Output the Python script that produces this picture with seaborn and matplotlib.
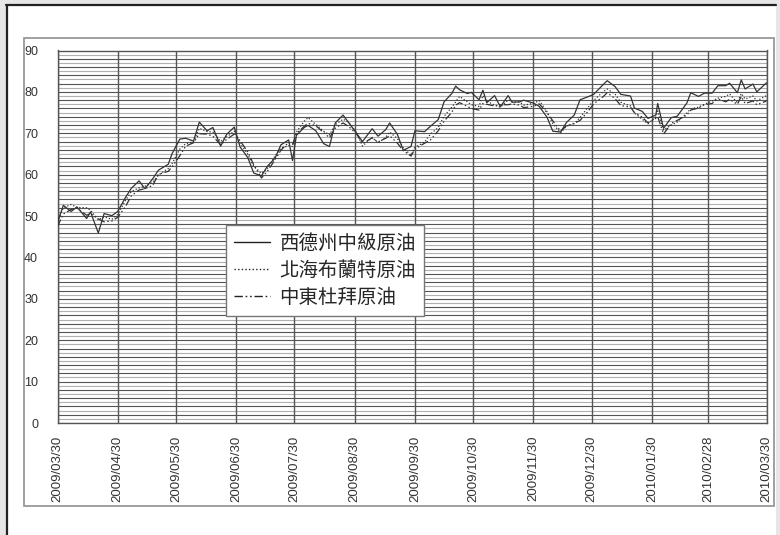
import numpy as np
import pandas as pd
import matplotlib
matplotlib.use("Agg")
from matplotlib import pyplot as plt
from matplotlib.patches import Rectangle
import seaborn as sns

# prices (about two points per week)
dates = ["2009-03-30", "2009-04-02", "2009-04-06", "2009-04-09", "2009-04-14", "2009-04-16",
         "2009-04-20", "2009-04-23", "2009-04-27", "2009-04-30", "2009-05-04", "2009-05-07",
         "2009-05-11", "2009-05-14", "2009-05-18", "2009-05-21", "2009-05-26", "2009-05-28",
         "2009-06-01", "2009-06-04", "2009-06-08", "2009-06-11", "2009-06-15", "2009-06-18",
         "2009-06-22", "2009-06-25", "2009-06-29", "2009-07-02", "2009-07-06", "2009-07-09",
         "2009-07-13", "2009-07-16", "2009-07-20", "2009-07-23", "2009-07-27", "2009-07-29",
         "2009-07-31", "2009-08-04", "2009-08-06", "2009-08-10", "2009-08-14", "2009-08-17",
         "2009-08-20", "2009-08-24", "2009-08-27", "2009-08-31", "2009-09-03", "2009-09-08",
         "2009-09-11", "2009-09-15", "2009-09-17", "2009-09-21", "2009-09-24", "2009-09-28",
         "2009-09-30", "2009-10-05", "2009-10-08", "2009-10-12", "2009-10-15", "2009-10-19",
         "2009-10-21", "2009-10-23", "2009-10-27", "2009-10-29", "2009-11-02", "2009-11-04",
         "2009-11-06", "2009-11-10", "2009-11-13", "2009-11-17", "2009-11-19", "2009-11-23",
         "2009-11-25", "2009-11-30", "2009-12-03", "2009-12-07", "2009-12-10", "2009-12-14",
         "2009-12-17", "2009-12-21", "2009-12-24", "2009-12-28", "2009-12-31", "2010-01-05",
         "2010-01-07", "2010-01-11", "2010-01-14", "2010-01-19", "2010-01-21", "2010-01-25",
         "2010-01-28", "2010-02-01", "2010-02-02", "2010-02-05", "2010-02-09", "2010-02-12",
         "2010-02-17", "2010-02-19", "2010-02-23", "2010-02-26", "2010-03-02", "2010-03-05",
         "2010-03-09", "2010-03-11", "2010-03-15", "2010-03-17", "2010-03-19", "2010-03-23",
         "2010-03-25", "2010-03-30"]

wti = [48.4, 52.6, 51.1, 52.2, 49.4, 51.0, 45.9, 50.6, 50.1, 51.1, 54.5, 56.7,
       58.5, 56.6, 59.0, 61.1, 62.5, 65.1, 68.6, 68.8, 68.1, 72.7, 70.6, 71.4,
       66.9, 69.7, 71.5, 66.7, 64.1, 60.4, 59.7, 62.0, 64.0, 67.2, 68.4, 63.4,
       69.5, 71.4, 71.9, 70.6, 67.5, 66.8, 72.5, 74.4, 72.5, 70.0, 68.0, 71.1,
       69.3, 70.9, 72.5, 69.7, 65.9, 66.8, 70.6, 70.4, 71.7, 73.3, 77.6, 79.6,
       81.4, 80.5, 79.6, 79.9, 78.1, 80.4, 77.4, 79.1, 76.4, 79.1, 77.5, 77.6,
       78.0, 77.3, 76.5, 73.9, 70.5, 70.3, 72.6, 74.4, 78.1, 78.8, 79.4, 81.8,
       82.7, 81.3, 79.4, 79.0, 76.1, 75.3, 73.6, 74.4, 77.2, 71.2, 73.8, 74.1,
       77.3, 79.8, 78.9, 79.7, 79.7, 81.5, 81.5, 82.1, 79.8, 82.9, 80.7, 81.9,
       80.0, 82.2]

brent = [48.6, 52.0, 52.8, 52.1, 52.0, 51.4, 49.1, 49.8, 49.2, 50.4, 53.8, 55.9,
         56.8, 57.2, 58.1, 59.9, 61.5, 62.7, 66.2, 67.5, 67.9, 71.2, 70.4, 70.3,
         68.0, 69.1, 70.5, 67.6, 64.9, 62.0, 60.3, 61.5, 64.5, 66.4, 67.0, 66.8,
         70.3, 72.9, 73.8, 72.1, 70.5, 69.6, 72.1, 73.4, 72.6, 70.2, 66.9, 69.0,
         67.6, 69.1, 70.3, 68.7, 66.5, 64.7, 66.6, 67.9, 69.8, 71.4, 74.1, 76.3,
         77.6, 78.9, 77.6, 76.9, 76.5, 79.1, 77.8, 76.8, 76.3, 78.1, 77.6, 77.5,
         76.8, 77.2, 77.9, 75.2, 72.3, 70.1, 71.7, 72.3, 73.8, 76.2, 77.9, 80.1,
         80.7, 79.5, 77.5, 76.6, 74.9, 73.4, 72.3, 73.9, 75.4, 70.8, 72.0, 72.7,
         74.9, 75.9, 76.3, 77.0, 77.8, 78.5, 78.9, 79.5, 77.4, 79.6, 78.3, 79.0,
         77.8, 79.1]

dubai = [47.5, 50.5, 51.6, 51.9, 50.2, 50.6, 49.3, 48.6, 48.8, 49.7, 52.3, 54.9,
         56.3, 56.6, 57.4, 60.1, 60.8, 61.9, 64.6, 66.9, 67.7, 69.9, 69.8, 69.3,
         67.2, 68.5, 69.8, 68.2, 65.5, 62.4, 59.2, 60.8, 63.6, 65.9, 67.8, 67.3,
         69.9, 71.7, 72.4, 71.8, 70.2, 68.9, 71.2, 72.5, 71.6, 69.8, 67.5, 68.9,
         67.9, 68.8, 69.4, 67.6, 65.8, 64.5, 66.2, 67.6, 68.4, 70.6, 72.9, 75.1,
         76.8, 77.4, 76.5, 76.0, 75.6, 77.2, 77.0, 76.6, 76.9, 76.9, 77.1, 76.8,
         76.2, 76.5, 77.1, 75.0, 73.0, 70.5, 71.8, 72.4, 73.1, 75.2, 77.1, 78.9,
         79.8, 78.4, 76.7, 76.3, 75.0, 73.9, 72.5, 73.6, 74.0, 69.8, 72.4, 73.1,
         74.4, 75.6, 76.1, 76.9, 77.2, 78.3, 77.6, 78.2, 77.0, 78.9, 77.2, 77.8,
         76.9, 77.8]

series_names = ["西德州中級原油", "北海布蘭特原油", "中東杜拜原油"]
tick_dates = ["2009-03-30", "2009-04-30", "2009-05-30", "2009-06-30", "2009-07-30",
              "2009-08-30", "2009-09-30", "2009-10-30", "2009-11-30", "2009-12-30",
              "2010-01-30", "2010-02-28", "2010-03-30"]
y_ticks = [0, 10, 20, 30, 40, 50, 60, 70, 80, 90]

df = pd.DataFrame({"date": pd.to_datetime(dates),
                   series_names[0]: wti,
                   series_names[1]: brent,
                   series_names[2]: dubai})

sns.set_style("white")
plt.rcParams['font.family'] = ['Liberation Sans', 'Noto Sans CJK TC', 'DejaVu Sans']

W, H = 780, 535
fig = plt.figure(figsize=(W / 100, H / 100), dpi=100)
fig.patch.set_facecolor("#e6e6e6")

# white panel with dark top/left border like the screenshot
fig.patches.append(Rectangle((6 / W, 0), (776 - 6) / W, 1 - 5 / H,
                             transform=fig.transFigure, facecolor="white",
                             edgecolor="none", zorder=0))
fig.lines.append(plt.Line2D([6 / W, 776 / W], [1 - 5 / H, 1 - 5 / H],
                            transform=fig.transFigure, color="#222222", lw=1.6))
fig.lines.append(plt.Line2D([7 / W, 7 / W], [0, 1 - 5 / H],
                            transform=fig.transFigure, color="#222222", lw=1.6))
# chart box
fig.patches.append(Rectangle((24 / W, 1 - 506 / H), (774 - 24) / W, (506 - 38) / H,
                             transform=fig.transFigure, facecolor="white",
                             edgecolor="#999999", lw=1.3, zorder=1))

ax = fig.add_axes([57.5 / W, 1 - 423 / H, (766.5 - 57.5) / W, (423 - 50.5) / H])
ax.set_facecolor("white")
ax.set_zorder(2)

styles = ["-", (0, (1, 1.6)), (0, (6, 2, 1.2, 2, 1.2, 2))]
for name, ls in zip(series_names, styles):
    sns.lineplot(data=df, x="date", y=name, ax=ax, color="#333333",
                 linestyle=ls, linewidth=0.9, label=name, zorder=3)

start, end = pd.Timestamp(tick_dates[0]), pd.Timestamp(tick_dates[-1])
ax.set_xlim(start, end)
ax.set_ylim(0, 90)

# horizontal grid every unit, vertical grid at month ticks
for v in range(0, 91):
    ax.axhline(v, color="#555555" if v % 2 == 0 else "#b0b0b0", lw=0.8, zorder=1)
tick_ts = pd.to_datetime(tick_dates)
for t in tick_ts:
    ax.axvline(t, color="#555555", lw=1.0, zorder=1)

ax.set_xticks(tick_ts)
ax.set_xticklabels([t.strftime("%Y/%m/%d") for t in tick_ts], rotation=90,
                   fontsize=9.5, color="#333333", va="top")
ax.set_yticks(y_ticks)
ax.set_yticklabels([str(v) for v in y_ticks], fontsize=9, color="#333333")
ax.tick_params(axis="both", length=0)
ax.tick_params(axis="y", pad=14)
ax.tick_params(axis="x", pad=9)
ax.set_xlabel("")
ax.set_ylabel("")
for s in ax.spines.values():
    s.set_color("#555555")
    s.set_linewidth(1.0)

leg = ax.legend(loc="upper left", bbox_to_anchor=(226 / W, 1 - 225 / H),
                bbox_transform=fig.transFigure, borderaxespad=0,
                prop={"family": ["Noto Sans CJK TC"], "size": 14},
                frameon=True, fancybox=False, handlelength=1.85,
                handletextpad=0.5, labelspacing=0.32, borderpad=0.4)
leg.get_frame().set_edgecolor("#777777")
leg.get_frame().set_linewidth(1.0)
leg.get_frame().set_alpha(1)
for line in leg.get_lines():
    line.set_linewidth(1.0)
    line.set_color("#222222")
leg.set_zorder(5)

fig.savefig("out.png", dpi=100, facecolor=fig.get_facecolor())
